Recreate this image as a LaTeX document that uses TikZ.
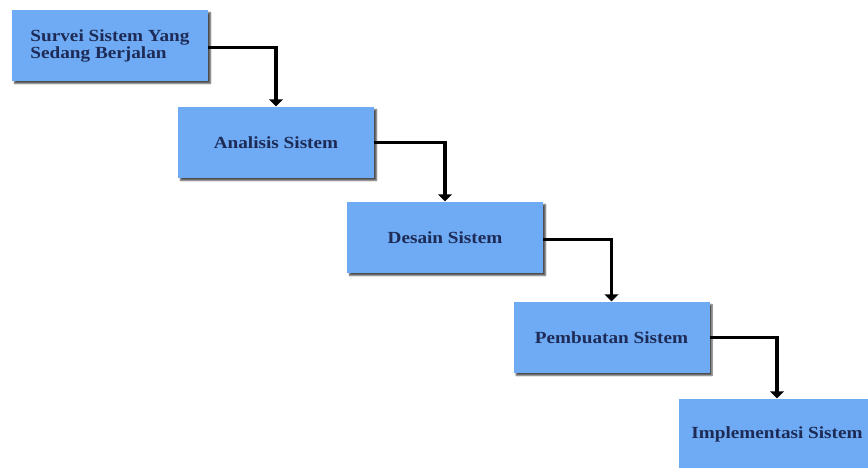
\documentclass[tikz,border=0pt]{standalone}
\usepackage{fontspec}
\newfontfamily\boxfont[FakeStretch=1.13]{Liberation Serif}
\usetikzlibrary{arrows.meta,shadows.blur}
\definecolor{boxblue}{HTML}{6EABF4}
\definecolor{boxtext}{HTML}{1D2B56}
\tikzset{
  stage/.style={fill=boxblue, draw=none, minimum width=196pt, minimum height=71pt,
    inner sep=0pt, text=boxtext, align=left,
    font=\boxfont\bfseries\fontsize{17}{17}\selectfont,
    blur shadow={shadow xshift=2.5pt, shadow yshift=-2.5pt, shadow blur radius=1.5pt,
      shadow blur steps=6, shadow opacity=70}},
  flow/.style={line width=3.8pt, -{Triangle[width=14pt,length=7pt]}, shorten >=0.5pt}
}
\begin{document}
\begin{tikzpicture}[x=1pt,y=1pt]
\useasboundingbox (0,0) rectangle (868,-468);
\begin{scope}
\clip (0,0) rectangle (868,-468);
\node[stage] (s1) at (110,-45.5) {Survei Sistem Yang\\Sedang Berjalan};
\node[stage] (s2) at (276,-142.5) {Analisis Sistem};
\node[stage] (s3) at (445,-237.5) {Desain Sistem};
\node[stage] (s4) at (611.5,-337.5) {Pembuatan Sistem};
\node[stage] (s5) at (777,-434.5) {Implementasi Sistem};
\draw[flow] ([yshift=-2pt]s1.east) -| (s2.north);
\draw[flow] (s2.east) -| (s3.north);
\draw[flow] ([yshift=-2pt]s3.east) -| (s4.north);
\draw[flow] (s4.east) -| (s5.north);
\end{scope}
\end{tikzpicture}
\end{document}
